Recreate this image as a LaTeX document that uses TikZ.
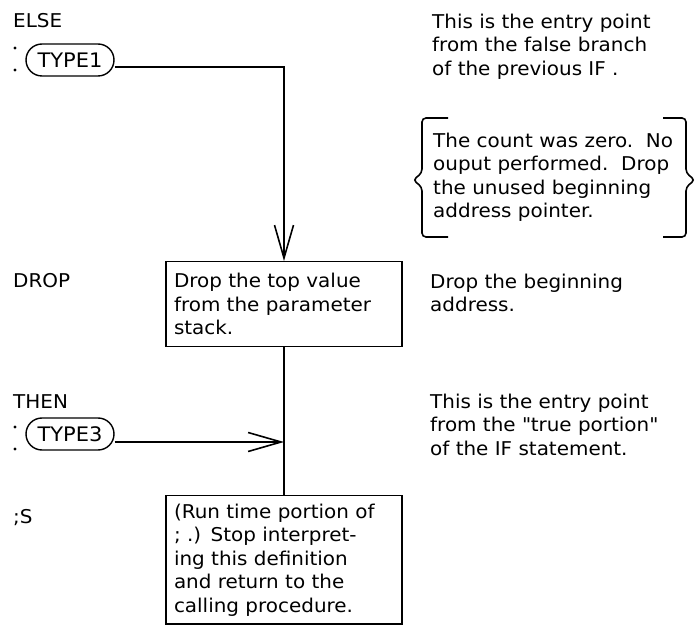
\documentclass[tikz,border=0pt]{standalone}
\usepackage{fontspec}
\setmainfont{DejaVu Sans}[FakeStretch=1.05]
\usetikzlibrary{shapes.misc, arrows.meta, positioning}

\begin{document}
\begin{tikzpicture}[x=1pt, y=-1pt,
    font=\fontsize{19}{23.5}\selectfont,
    word/.style={anchor=base west, inner sep=0pt},
    note/.style={anchor=north west, inner sep=0pt, align=left},
    term/.style={rounded rectangle, draw, line width=1.4pt,
        minimum width=88pt, minimum height=32pt, inner sep=0pt,
        font=\fontsize{20}{24}\selectfont},
    cell/.style={draw, line width=1.2pt, text width=220pt, align=left,
        inner xsep=8pt, inner ysep=8pt, anchor=north},
    arr/.style={-{Straight Barb[length=33pt, width=19pt, line width=1.6pt]},
        line width=1.6pt},
    flow/.style={line width=1.6pt},
    brc/.style={line width=1.6pt, rounded corners=4pt},
  ]
  \useasboundingbox (0,0) rectangle (696,628);
  % left column: word names
  \node[word] (else) at (13,28) {ELSE};
  \node[word] (drop) at (13,288) {DROP};
  \node[word] (then) at (13,408) {THEN};
  \node[word] (semis) at (13,523) {;S};
  % entry terminals
  \node[term] (t1) at (70,60) {TYPE1};
  \fill (15,48) circle (1.7);
  \fill (15,70) circle (1.7);
  \node[term] (t3) at (70,434) {TYPE3};
  \fill (15,427) circle (1.7);
  \fill (15,449) circle (1.7);
  % action boxes
  \node[cell, minimum height=85pt] (box1) at (284,261) {Drop the top value\\from the parameter\\stack.};
  \node[cell] (box2) at (284,495) {(Run time portion of\\; .) Stop interpret-\\ing this definition\\and return to the\\calling procedure.};
  % connectors
  \coordinate (e1) at ([yshift=-7pt]t1.east);
  \draw[arr] (e1) -| (box1.north);
  \draw[flow] (box1.south) -- (box2.north);
  \coordinate (e3) at ([yshift=-8pt]t3.east);
  \draw[arr] (e3) -- (e3 -| box1.south);
  % right column: comments
  \node[note] (n1) at (432,13.6) {This is the entry point\\from the false branch\\of the previous IF .};
  \node[note] (n2) at (433,132.6) {The count was zero.\ \ No\\ouput performed.\ \ Drop\\the unused beginning\\address pointer.};
  \draw[brc] (448,118) -- (422,118) -- (422,173) -- (413,180) -- (422,187) -- (422,237) -- (448,237);
  \draw[brc] (663,118) -- (686,118) -- (686,173) -- (695,180) -- (686,187) -- (686,237) -- (663,237);
  \node[note] (n3) at (430,273.6) {Drop the beginning\\address.};
  \node[note] (n4) at (430,393.6) {This is the entry point\\from the \textquotedbl true portion\textquotedbl\\of the IF statement.};
\end{tikzpicture}
\end{document}
